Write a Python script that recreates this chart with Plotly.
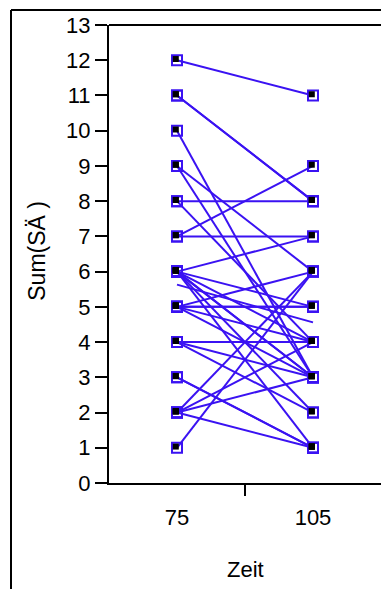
import plotly.graph_objects as go

# Paired scores per subject at the two time points
zeit = [75, 105]
sum_75 = [12, 11, 11, 10, 9, 9, 8, 8, 7, 7, 6, 6, 6, 6, 6, 6, 6, 5, 5, 5, 5, 5, 4, 4, 4, 3, 3, 2, 2, 2, 2, 1]
sum_105 = [11, 8, 8, 3, 6, 3, 8, 4, 7, 9, 7, 5, 4, 3, 3, 2, 1, 5, 5, 6, 3, 4, 4, 3, 2, 1, 1, 4, 3, 1, 6, 6]
# Group means at each time point
mean_75 = 5.63
mean_105 = 4.56

y_ticks = list(range(0, 14))

BLUE = "#3a12f2"

xs, ys = [], []
for a, b in zip(sum_75, sum_105):
    xs += [zeit[0], zeit[1], None]
    ys += [a, b, None]

L, T, W, H = 109, 25, 381, 589
B = H - 483.5
plot_w = W - L
plot_h = H - T - B

X_RANGE = [60, 120]
Y_RANGE = [0, 13]
# small pixel offset so the filled core sits toward the upper-left of each box
dx_units = 1.2 * (X_RANGE[1] - X_RANGE[0]) / plot_w
dy_units = 1.2 * (Y_RANGE[1] - Y_RANGE[0]) / plot_h

fig = go.Figure()
fig.add_trace(go.Scatter(
    x=zeit, y=[mean_75, mean_105], mode="lines",
    line=dict(color=BLUE, width=2), hoverinfo="skip"))
fig.add_trace(go.Scatter(
    x=xs, y=ys, mode="lines+markers",
    line=dict(color=BLUE, width=2),
    marker=dict(symbol="square-open", size=10, color=BLUE, line=dict(width=2, color=BLUE))))
fig.add_trace(go.Scatter(
    x=xs, y=ys, mode="markers", xaxis="x2", yaxis="y2",
    marker=dict(symbol="square", size=6, color="black")))


def px_x(p):
    return (p - L) / plot_w


def px_y(p):
    return (H - B - p) / plot_h


font = dict(family="Liberation Sans, Arial, Helvetica, sans-serif", size=22, color="black")

fig.update_layout(
    width=W, height=H,
    margin=dict(l=L, r=0, t=T, b=B),
    paper_bgcolor="white", plot_bgcolor="white",
    showlegend=False,
    font=font,
    xaxis=dict(
        range=X_RANGE, tickvals=zeit, ticktext=[str(z) for z in zeit],
        ticks="outside", ticklen=14, tickcolor="rgba(0,0,0,0)",
        minor=dict(tickvals=[90], ticks="outside", ticklen=11, tickwidth=1.5, tickcolor="black"),
        showline=True, linecolor="black", linewidth=2,
        showgrid=False, zeroline=False, tickfont=font),
    yaxis=dict(
        range=Y_RANGE, tickvals=y_ticks, ticks="outside", ticklen=12, tickwidth=2,
        tickcolor="black", showline=True, linecolor="black", linewidth=2,
        showgrid=False, zeroline=False, tickfont=font),
    xaxis2=dict(overlaying="x", range=[X_RANGE[0] + dx_units, X_RANGE[1] + dx_units],
                visible=False),
    yaxis2=dict(overlaying="y", range=[Y_RANGE[0] - dy_units, Y_RANGE[1] - dy_units],
                visible=False),
    shapes=[
        # top edge of the plotting area
        dict(type="line", xref="paper", yref="paper", x0=0, x1=1.05, y0=1, y1=1,
             line=dict(color="black", width=2)),
        # outer frame (top and left)
        dict(type="line", xref="paper", yref="paper", x0=px_x(11), x1=1.05,
             y0=px_y(10), y1=px_y(10), line=dict(color="black", width=2)),
        dict(type="line", xref="paper", yref="paper", x0=px_x(11), x1=px_x(11),
             y0=px_y(10), y1=px_y(600), line=dict(color="black", width=2)),
    ],
    annotations=[
        dict(text="Zeit", xref="paper", yref="paper", x=px_x(245), y=px_y(570),
             xanchor="center", yanchor="middle", showarrow=False, font=font),
        dict(text="Sum(SÄ )", xref="paper", yref="paper", x=px_x(37), y=px_y(251),
             xanchor="center", yanchor="middle", showarrow=False, textangle=-90,
             font=dict(font, size=23)),
    ],
)

fig.write_html("out.html")
